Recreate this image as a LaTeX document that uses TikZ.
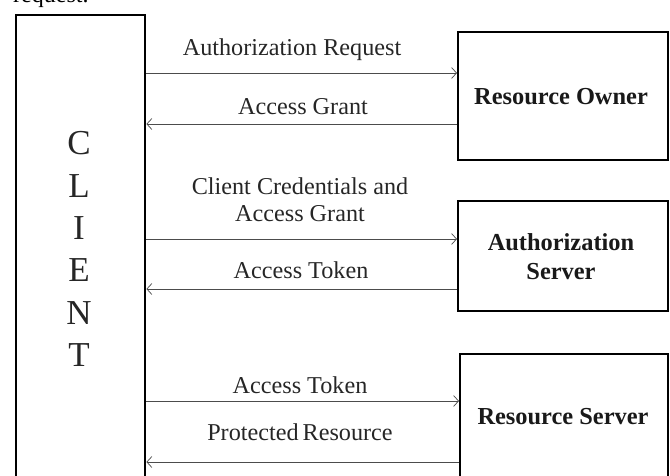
\documentclass[tikz,border=0pt]{standalone}
\usepackage{fontspec}
\setmainfont{Liberation Serif}
\usetikzlibrary{arrows.meta}
\begin{document}
\begin{tikzpicture}[x=1pt,y=-1pt,
  box/.style={draw, line width=2.4pt, rectangle, inner sep=0pt, anchor=north west},
  lbl/.style={font=\fontsize{24.2}{27}\selectfont, inner sep=0pt, align=center, text=black!85},
  blbl/.style={font=\bfseries\fontsize{24.4}{29}\selectfont, inner sep=0pt, align=center, text=black!90},
  arr/.style={line width=0.7pt, draw=black!70, -{Straight Barb[length=5pt,width=11pt]}}]
\useasboundingbox (0,0) rectangle (670,476);
\clip (0,0) rectangle (670,476);
% cut-off text at top
\node[anchor=base west, font=\fontsize{24}{24}\selectfont, inner sep=0pt] (req) at (13,3) {request.};
% boxes
\node[box, minimum width=129pt, minimum height=520pt] (client) at (15,14) {};
\node[box, minimum width=210pt, minimum height=128pt] (ro) at (457,31) {};
\node[box, minimum width=210pt, minimum height=110pt] (as) at (457,200) {};
\node[box, minimum width=208pt, minimum height=160pt] (rs) at (459,353) {};
% box texts
\node[font=\fontsize{35}{42.3}\selectfont, align=center, inner sep=0pt, text=black!85] (cl) at (79,249) {C\\L\\I\\E\\N\\T};
\node[blbl] (rot) at (561,97) {Resource Owner};
\node[blbl] (ast) at (561,257) {Authorization\\Server};
\node[blbl] (rst) at (563,417) {Resource Server};
% arrows
\draw[arr] (client.east |- 0,73) -- (ro.west |- 0,73);
\draw[arr] (ro.west |- 0,124) -- (client.east |- 0,124);
\draw[arr] (client.east |- 0,239) -- (as.west |- 0,239);
\draw[arr] (as.west |- 0,289) -- (client.east |- 0,289);
\draw[arr] (client.east |- 0,401) -- (rs.west |- 0,401);
\draw[arr] (rs.west |- 0,462) -- (client.east |- 0,462);
% labels
\node[lbl] (l1) at (292,50) {Authorization Request};
\node[lbl] (l2) at (303,107) {Access Grant};
\node[lbl] (l3) at (300,200) {Client Credentials and\\Access Grant};
\node[lbl] (l4) at (301,270) {Access Token};
\node[lbl] (l5) at (300,385) {Access Token};
\node[lbl] (l6) at (300,432) {Protected\,Resource};
\end{tikzpicture}
\end{document}
